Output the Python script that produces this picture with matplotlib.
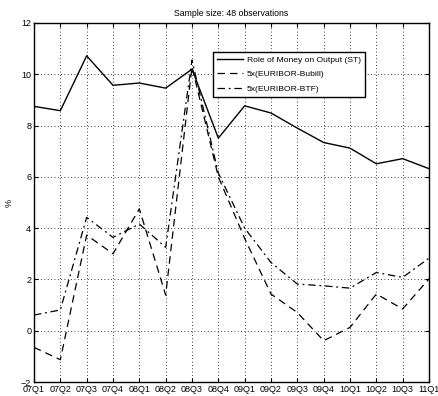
import numpy as np
import matplotlib
matplotlib.use("Agg")
import matplotlib.pyplot as plt

plt.rcParams['font.family'] = ['Liberation Sans', 'DejaVu Sans']

quarters = ['07Q1', '07Q2', '07Q3', '07Q4', '08Q1', '08Q2', '08Q3', '08Q4',
            '09Q1', '09Q2', '09Q3', '09Q4', '10Q1', '10Q2', '10Q3', '11Q1']

# role of money on output (short term)
money_output = [8.75, 8.58, 10.72, 9.57, 9.66, 9.46, 10.2, 7.51,
                8.77, 8.49, 7.9, 7.34, 7.12, 6.51, 6.71, 6.32]
# 5 x (EURIBOR - Bubill)
spread_bubill = [-0.65, -1.13, 3.73, 3.0, 4.75, 1.39, 10.3, 6.0,
                 3.6, 1.43, 0.71, -0.39, 0.13, 1.43, 0.85, 2.02]
# 5 x (EURIBOR - BTF)
spread_btf = [0.61, 0.81, 4.42, 3.64, 4.16, 3.25, 10.55, 6.15,
              4.0, 2.66, 1.82, 1.75, 1.66, 2.27, 2.08, 2.83]

fig = plt.figure(figsize=(4.38, 3.96), dpi=100)
ax = fig.add_axes([34 / 438, 1 - 382 / 396, 395 / 438, 359 / 396])

x = np.arange(len(quarters))
ax.plot(x, money_output, color='black', lw=1.0, ls='-', label='Role of Money on Output (ST)')
ax.plot(x, spread_bubill, color='black', lw=0.9, ls=(0, (6, 4)), label='5x(EURIBOR-Bubill)')
ax.plot(x, spread_btf, color='black', lw=0.9, ls=(0, (6, 3, 1.5, 3)), label='5x(EURIBOR-BTF)')

ax.set_xlim(0, len(quarters) - 1)
ax.set_ylim(-2, 12)
ax.set_xticks(x)
ax.set_xticklabels(quarters)
ax.set_yticks(range(-2, 13, 2))
ax.tick_params(direction='in', labelsize=6.5, length=3, top=True, right=True, pad=2)
ax.grid(True, color='black', ls=(0, (1, 3)), lw=0.6)
for s in ax.spines.values():
    s.set_linewidth(1.0)

ax.set_ylabel('%', fontsize=6.5, labelpad=5)
ax.set_title('Sample size: 48 observations', fontsize=6.3, pad=5)

leg = ax.legend(loc='upper left', bbox_to_anchor=(179 / 395, 1 - 29 / 359), fontsize=6.1,
                frameon=True, fancybox=False, edgecolor='black', framealpha=1,
                handlelength=3.1, borderpad=0.5, labelspacing=0.75, handletextpad=0.4,
                borderaxespad=0)
leg.get_frame().set_linewidth(1.0)

fig.savefig('out.png', dpi=100)
